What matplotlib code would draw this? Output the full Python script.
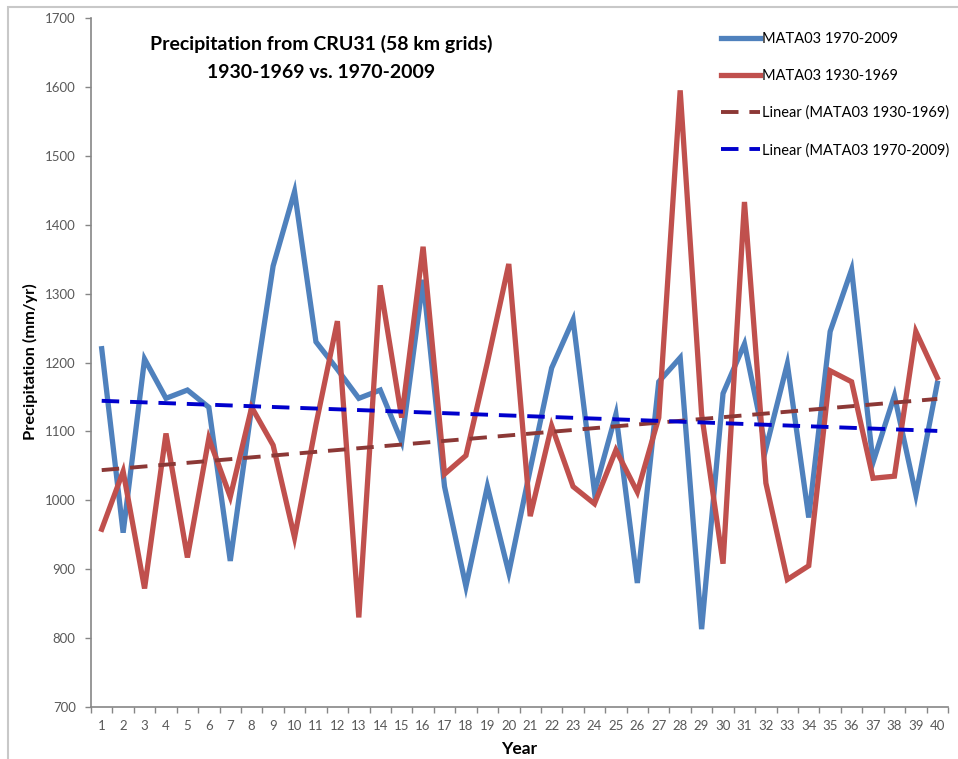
import numpy as np
import matplotlib
matplotlib.use('Agg')
import matplotlib.pyplot as plt
from matplotlib.patches import Rectangle

plt.rcParams['font.family'] = ['Lato', 'DejaVu Sans']

###############################################################################
## Data
###############################################################################
years = np.arange(1, 41)

# MATA03 1970-2009
precip_1970 = [1220, 953, 1205, 1148, 1160, 1135, 912, 1135, 1340, 1448,
               1230, 1190, 1148, 1160, 1085, 1320, 1020, 875, 1020, 895,
               1045, 1192, 1262, 1012, 1125, 880, 1172, 1207, 813, 1155,
               1227, 1075, 1198, 975, 1245, 1335, 1055, 1152, 1008, 1170]

# MATA03 1930-1969
precip_1930 = [958, 1042, 872, 1097, 917, 1090, 1005, 1135, 1080, 946,
               1110, 1260, 830, 1312, 1120, 1368, 1038, 1065, 1200, 1343,
               977, 1108, 1020, 995, 1073, 1012, 1120, 1595, 1125, 908,
               1433, 1025, 885, 905, 1188, 1172, 1032, 1035, 1245, 1178]

labels = ['MATA03 1970-2009', 'MATA03 1930-1969',
          'Linear (MATA03 1930-1969)', 'Linear (MATA03 1970-2009)']

# colours
c_blue = '#4F81BD'
c_red = '#C0504D'
c_trend_red = '#8C3836'
c_trend_blue = '#0000CC'
c_axis = '#868686'
c_tick = '#595959'

###############################################################################
## Figure
###############################################################################
fig = plt.figure(figsize=(9.58, 7.59), dpi=100)
ax = fig.add_axes([91/958, 1 - 707/759, (948 - 91)/958, (707 - 18)/759])

# linear trend lines (like excel's "Linear" trendline)
p_red = np.polyfit(years, precip_1930, 1)
p_blue = np.polyfit(years, precip_1970, 1)

ax.plot(years, precip_1970, color=c_blue, lw=3.8, label=labels[0], zorder=3,
        solid_joinstyle='miter')
ax.plot(years, precip_1930, color=c_red, lw=3.8, label=labels[1], zorder=4,
        solid_joinstyle='miter')
ax.plot(years, np.polyval(p_red, years), color=c_trend_red, lw=2.8,
        dashes=(4.5, 2.8), label=labels[2], zorder=5)
ax.plot(years, np.polyval(p_blue, years), color=c_trend_blue, lw=2.8,
        dashes=(4.5, 2.8), label=labels[3], zorder=5)

ax.set_xlim(0.5, 40.5)
ax.set_ylim(700, 1700)
ax.set_yticks(np.arange(700, 1701, 100))
ax.set_xticks(years)
ax.set_xticks(np.arange(0.5, 41, 1), minor=True)
ax.tick_params(axis='x', which='major', length=0, pad=9, labelsize=9.5,
               labelcolor=c_tick)
ax.tick_params(axis='x', which='minor', length=4, width=1, color=c_axis,
               direction='out')
ax.tick_params(axis='y', length=4, width=1, color=c_axis, direction='out',
               pad=7, labelsize=9.5, labelcolor=c_tick)

for s in ['top', 'right']:
    ax.spines[s].set_visible(False)
for s in ['left', 'bottom']:
    ax.spines[s].set_color(c_axis)
    ax.spines[s].set_linewidth(1.2)

# axis titles
fig.text(30/958, 1 - 362/759, 'Precipitation (mm/yr)', rotation=90,
         ha='center', va='center', fontsize=11.8, fontweight='bold')
fig.text(519/958, 1 - 749/759, 'Year', ha='center', va='center',
         fontsize=12.5, fontweight='bold')

# chart title
fig.text(321/958, 1 - 44/759, 'Precipitation from CRU31 (58 km grids)',
         ha='center', va='center', fontsize=14, fontweight='bold')
fig.text(321/958, 1 - 73/759, '1930-1969 vs. 1970-2009',
         ha='center', va='center', fontsize=14, fontweight='bold')

leg = ax.legend(loc='upper left', bbox_to_anchor=(721/958, 1 - 32/759),
                bbox_transform=fig.transFigure, frameon=False, fontsize=10.5,
                handlelength=2.7, handletextpad=0.1, labelspacing=1.57,
                borderpad=0, borderaxespad=0)

# light border around the chart area
fig.patches.append(Rectangle((8/958, -0.1), 1.2, 1.1 - 7/759,
                             transform=fig.transFigure, fill=False,
                             edgecolor='#C8C8C8', lw=1.5))

fig.savefig('out.png', dpi=100)
